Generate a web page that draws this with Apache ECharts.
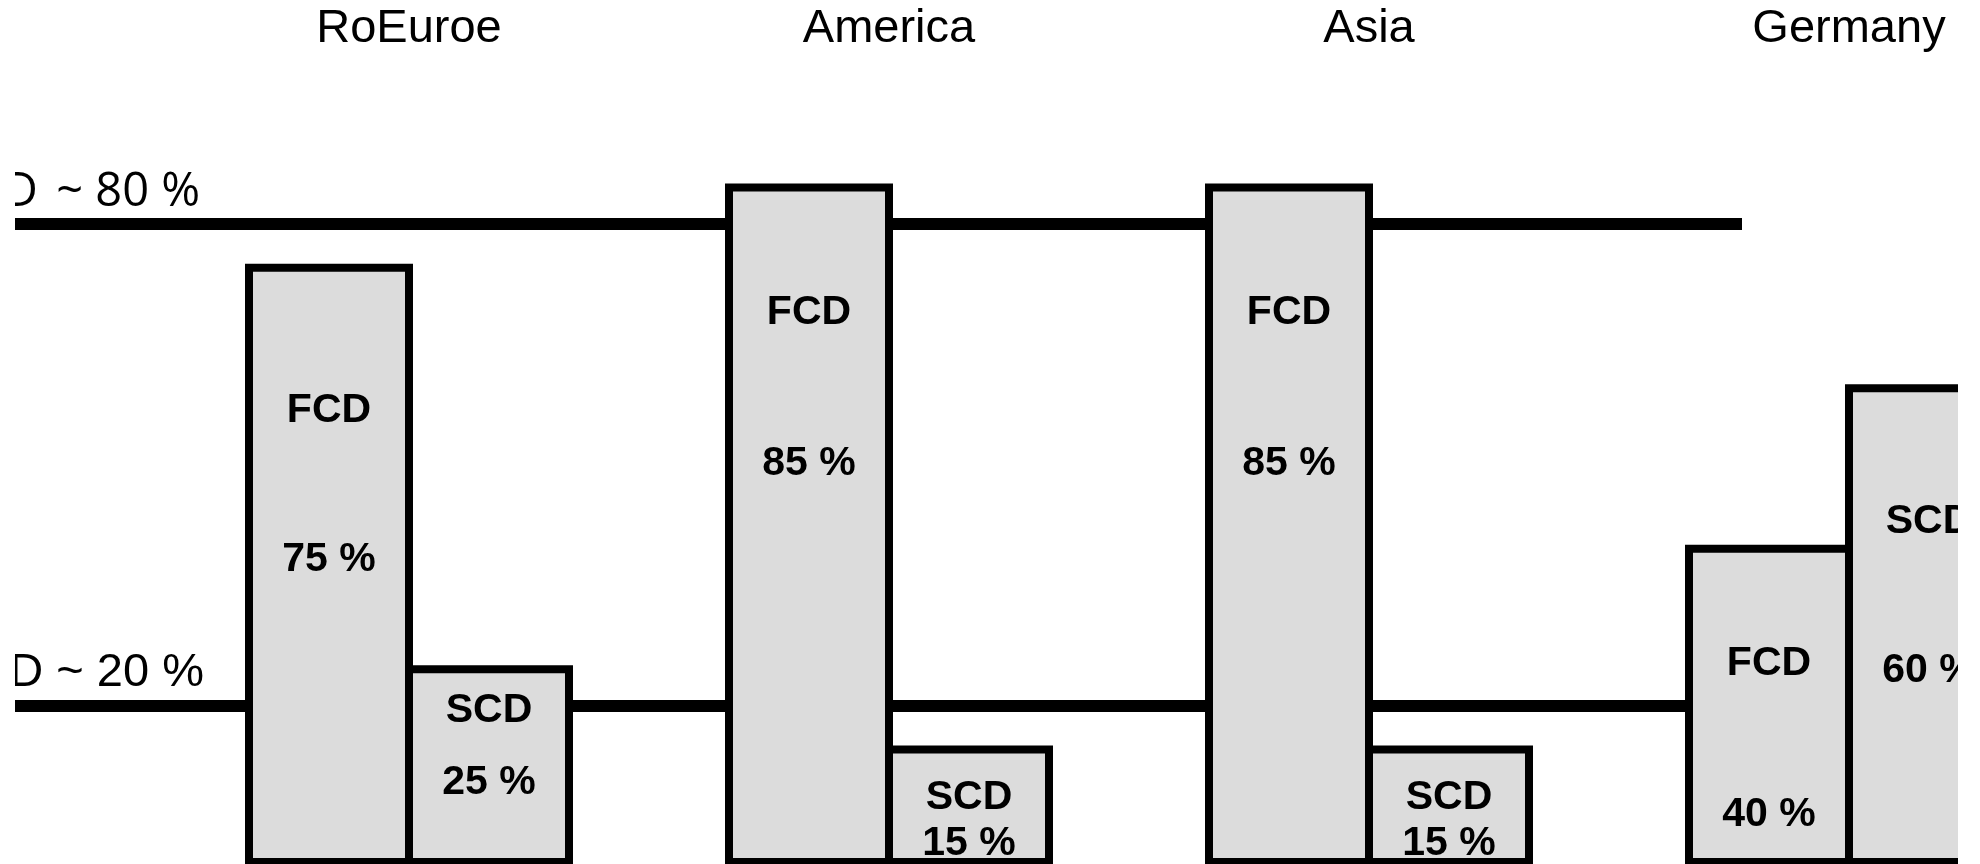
<!DOCTYPE html>
<html>
<head>
<meta charset="utf-8">
<title>FCD / SCD share by region</title>
<script src="https://cdn.jsdelivr.net/npm/echarts@6/dist/echarts.min.js"></script>
<style>
  html, body { margin: 0; padding: 0; background: #ffffff; width: 1980px; height: 864px; overflow: hidden; }
  #chart { position: absolute; left: 15px; top: 0; width: 1943px; height: 864px; }
</style>
</head>
<body>
<div id="chart"></div>
<script>
// Regions shown along the top
const regions = ['RoEuroe', 'America', 'Asia', 'Germany'];

// Share of each delivery type per region (%)
const fcdShare = [75, 85, 85, 40];
const scdShare = [25, 15, 15, 60];

// Reference levels drawn as horizontal rules
const refLevels = [80, 20];
const refNames = ['FCD', 'SCD'];

// Label placement inside each bar: [gap below bar top, spacing of the two lines]
const fcdLabelLayout = [[72, 149], [53.5, 151], [53.5, 151], [43.5, 151]];
const scdLabelLayout = [[9.5, 72], [29, 46], [29, 46], [63, 149]];

// Reference rule label styling: font, horizontal shift, gap above the rule, gap after the name
const refLabelFonts = ['Open Sans', 'Liberation Sans'];
const refLabelShift = [-65, -71];
const refLabelLift = [7, 8.5];
const refNameGap = [6, 0];

const chart = echarts.init(document.getElementById('chart'), null, { renderer: 'canvas' });

function barItems(values, layout) {
  return values.map((v, i) => ({
    value: v,
    label: { distance: layout[i][0], lineHeight: layout[i][1] }
  }));
}

const barStyle = {
  color: '#dcdcdc',
  borderColor: '#000000',
  borderWidth: 8
};

const barLabel = {
  show: true,
  position: 'insideTop',
  color: '#000000',
  fontFamily: 'Liberation Sans',
  fontWeight: 'bold',
  fontSize: 41,
  align: 'center',
  formatter: p => p.seriesName + '\n' + p.value + ' %'
};

// Adjacent bars share one border line
const BAR_W = 168;
const BAR_GAP = (-8 / BAR_W * 100).toFixed(3) + '%';

function refLabel(i) {
  const font = { color: '#000000', fontSize: 47, fontFamily: refLabelFonts[i] };
  return {
    formatter: '{n|' + refNames[i] + '}{v| ~ ' + refLevels[i] + ' %}',
    distance: [refLabelShift[i], refLabelLift[i]],
    rich: {
      n: Object.assign({ padding: [0, refNameGap[i], 0, 0] }, font),
      v: font
    }
  };
}

const option = {
  animation: false,
  backgroundColor: '#ffffff',
  grid: {
    left: 154, top: 63, width: 1920, height: 803,
    containLabel: false,
    outerBoundsMode: 'none'
  },
  xAxis: {
    type: 'category',
    position: 'top',
    data: regions,
    boundaryGap: true,
    axisLine: { show: false },
    axisTick: { show: false },
    splitLine: { show: false },
    axisLabel: {
      interval: 0,
      margin: 10,
      color: '#000000',
      fontFamily: 'Liberation Sans',
      fontSize: 47
    }
  },
  yAxis: {
    type: 'value',
    min: 0,
    max: 100,
    show: false,
    splitLine: { show: false }
  },
  series: [
    {
      name: 'FCD',
      type: 'bar',
      z: 2,
      barWidth: BAR_W,
      barGap: BAR_GAP,
      itemStyle: barStyle,
      label: barLabel,
      data: barItems(fcdShare, fcdLabelLayout),
      markLine: {
        z: 1,
        silent: true,
        symbol: ['none', 'none'],
        lineStyle: { color: '#000000', width: 12, type: 'solid' },
        label: {
          show: true,
          position: 'insideStartTop',
          color: '#000000',
          fontSize: 47
        },
        data: refLevels.map((lv, i) => [
          { xAxis: 0, yAxis: lv, x: 0, label: refLabel(i) },
          { xAxis: 0, yAxis: lv, x: 1727 }
        ])
      }
    },
    {
      name: 'SCD',
      type: 'bar',
      z: 2,
      barWidth: BAR_W,
      barGap: BAR_GAP,
      itemStyle: barStyle,
      label: barLabel,
      data: barItems(scdShare, scdLabelLayout)
    }
  ]
};

chart.setOption(option);
</script>
</body>
</html>
